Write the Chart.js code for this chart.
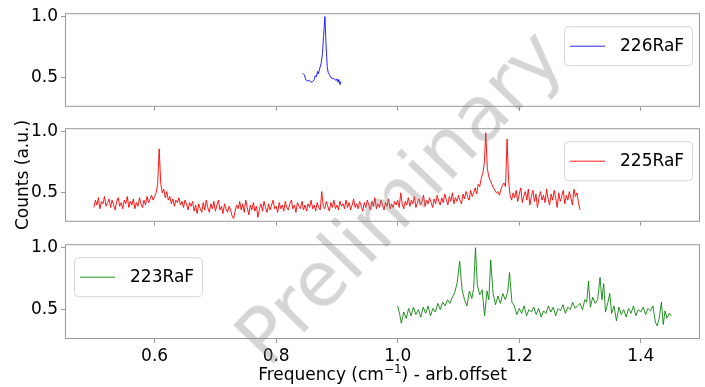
<!DOCTYPE html>
<html>
<head>
<meta charset="utf-8">
<script src="https://cdn.jsdelivr.net/npm/chart.js@4"></script>
<style>
    body { margin: 0; background: #fff; }
    #wrap { position: relative; width: 705px; height: 387px; overflow: hidden; font-family: "DejaVu Sans", sans-serif; }
    canvas { position: absolute; left: 0; }
    .ylabel { position: absolute; left: 22px; top: 175px; font-size: 17px; white-space: nowrap; transform: translate(-50%, -50%) rotate(-90deg); }
    .xlabel { position: absolute; left: 0; width: 765px; top: 364px; text-align: center; font-size: 17px; line-height: 20px; white-space: nowrap; }
    .xlabel sup { font-size: 12px; line-height: 0; }
    .mark { position: absolute; left: 399px; top: 197px; font-size: 76px; line-height: 1; white-space: nowrap; color: rgba(128, 128, 128, 0.33); transform: translate(-50%, -50%) rotate(-46deg); pointer-events: none; }
</style>
</head>
<body>
<div id="wrap">
    <canvas id="c226" width="705" height="120" style="top:0px"></canvas>
    <canvas id="c225" width="705" height="120" style="top:115px"></canvas>
    <canvas id="c223" width="705" height="156" style="top:231px"></canvas>
    <div class="ylabel">Counts (a.u.)</div>
    <div class="xlabel">Frequency (cm<sup>−1</sup>) - arb.offset</div>
    <div class="mark">Preliminary</div>
</div>
<script>
// axis settings (shared by all three panels)
const xTicks = [0.6, 0.8, 1.0, 1.2, 1.4];
const yTicks = [0.5, 1.0];
const X_MIN = 0.4525, X_MAX = 1.4975;
const Y_MIN = 0.263, Y_MAX = 1.028;

// 226RaF
const blueFreq = [0.8433, 0.8461, 0.8489, 0.8515, 0.8543, 0.8571, 0.8598, 0.8626, 0.8642, 0.8663,
    0.8680, 0.8696, 0.8719, 0.8741, 0.8762, 0.8779, 0.8802, 0.8818, 0.8840, 0.8856,
    0.8877, 0.8905, 0.8933, 0.8960, 0.8983, 0.8999, 0.9016, 0.9032, 0.9049, 0.9065];
const blueCounts = [0.539, 0.525, 0.486, 0.472, 0.480, 0.464, 0.467, 0.486, 0.517, 0.507,
    0.552, 0.533, 0.579, 0.618, 0.698, 0.830, 1.000, 0.804, 0.591, 0.544,
    0.525, 0.499, 0.494, 0.491, 0.478, 0.491, 0.464, 0.486, 0.444, 0.470];

// 225RaF
const redFreq = [
    0.5000, 0.5025, 0.5050, 0.5075, 0.5100, 0.5125, 0.5150, 0.5175,
    0.5200, 0.5225, 0.5250, 0.5275, 0.5300, 0.5325, 0.5350, 0.5375,
    0.5400, 0.5425, 0.5450, 0.5475, 0.5500, 0.5525, 0.5550, 0.5575,
    0.5600, 0.5625, 0.5650, 0.5675, 0.5700, 0.5725, 0.5750, 0.5775,
    0.5800, 0.5825, 0.5850, 0.5875, 0.5900, 0.5925, 0.5950, 0.5975,
    0.6000, 0.6025, 0.6050, 0.6075, 0.6100, 0.6125, 0.6150, 0.6175,
    0.6200, 0.6225, 0.6250, 0.6275, 0.6300, 0.6325, 0.6350, 0.6375,
    0.6400, 0.6425, 0.6450, 0.6475, 0.6500, 0.6525, 0.6550, 0.6575,
    0.6600, 0.6625, 0.6650, 0.6675, 0.6700, 0.6725, 0.6750, 0.6775,
    0.6800, 0.6825, 0.6850, 0.6875, 0.6900, 0.6925, 0.6950, 0.6975,
    0.7000, 0.7025, 0.7050, 0.7075, 0.7100, 0.7125, 0.7150, 0.7175,
    0.7200, 0.7225, 0.7250, 0.7275, 0.7300, 0.7325, 0.7350, 0.7375,
    0.7400, 0.7425, 0.7450, 0.7475, 0.7500, 0.7525, 0.7550, 0.7575,
    0.7600, 0.7625, 0.7650, 0.7675, 0.7700, 0.7725, 0.7750, 0.7775,
    0.7800, 0.7825, 0.7850, 0.7875, 0.7900, 0.7925, 0.7950, 0.7975,
    0.8000, 0.8025, 0.8050, 0.8075, 0.8100, 0.8125, 0.8150, 0.8175,
    0.8200, 0.8225, 0.8250, 0.8275, 0.8300, 0.8325, 0.8350, 0.8375,
    0.8400, 0.8425, 0.8450, 0.8475, 0.8500, 0.8525, 0.8550, 0.8575,
    0.8600, 0.8625, 0.8650, 0.8675, 0.8700, 0.8725, 0.8750, 0.8775,
    0.8800, 0.8825, 0.8850, 0.8875, 0.8900, 0.8925, 0.8950, 0.8975,
    0.9000, 0.9025, 0.9050, 0.9075, 0.9100, 0.9125, 0.9150, 0.9175,
    0.9200, 0.9225, 0.9250, 0.9275, 0.9300, 0.9325, 0.9350, 0.9375,
    0.9400, 0.9425, 0.9450, 0.9475, 0.9500, 0.9525, 0.9550, 0.9575,
    0.9600, 0.9625, 0.9650, 0.9675, 0.9700, 0.9725, 0.9750, 0.9775,
    0.9800, 0.9825, 0.9850, 0.9875, 0.9900, 0.9925, 0.9950, 0.9975,
    1.0000, 1.0025, 1.0050, 1.0075, 1.0100, 1.0125, 1.0150, 1.0175,
    1.0200, 1.0225, 1.0250, 1.0275, 1.0300, 1.0325, 1.0350, 1.0375,
    1.0400, 1.0425, 1.0450, 1.0475, 1.0500, 1.0525, 1.0550, 1.0575,
    1.0600, 1.0625, 1.0650, 1.0675, 1.0700, 1.0725, 1.0750, 1.0775,
    1.0800, 1.0825, 1.0850, 1.0875, 1.0900, 1.0925, 1.0950, 1.0975,
    1.1000, 1.1025, 1.1050, 1.1075, 1.1100, 1.1125, 1.1150, 1.1175,
    1.1200, 1.1225, 1.1250, 1.1275, 1.1300, 1.1325, 1.1350, 1.1375,
    1.1400, 1.1425, 1.1450, 1.1475, 1.1500, 1.1525, 1.1550, 1.1575,
    1.1600, 1.1625, 1.1650, 1.1675, 1.1700, 1.1725, 1.1750, 1.1775,
    1.1800, 1.1825, 1.1850, 1.1875, 1.1900, 1.1925, 1.1950, 1.1975,
    1.2000, 1.2025, 1.2050, 1.2075, 1.2100, 1.2125, 1.2150, 1.2175,
    1.2200, 1.2225, 1.2250, 1.2275, 1.2300, 1.2325, 1.2350, 1.2375,
    1.2400, 1.2425, 1.2450, 1.2475, 1.2500, 1.2525, 1.2550, 1.2575,
    1.2600, 1.2625, 1.2650, 1.2675, 1.2700, 1.2725, 1.2750, 1.2775,
    1.2800, 1.2825, 1.2850, 1.2875, 1.2900, 1.2925, 1.2950, 1.2975,
    1.3000];
const redCounts = [
    0.38, 0.44, 0.40, 0.46, 0.37, 0.43, 0.41, 0.47,
    0.39, 0.42, 0.45, 0.38, 0.44, 0.40, 0.36, 0.43,
    0.46, 0.39, 0.42, 0.37, 0.44, 0.41, 0.47, 0.38,
    0.43, 0.40, 0.45, 0.37, 0.42, 0.39, 0.46, 0.41,
    0.38, 0.44, 0.40, 0.47, 0.42, 0.45, 0.48, 0.44,
    0.47, 0.50, 0.57, 0.86, 0.58, 0.50, 0.53, 0.46,
    0.51, 0.44, 0.47, 0.41, 0.45, 0.39, 0.44, 0.42,
    0.46, 0.40, 0.43, 0.38, 0.44, 0.41, 0.36, 0.42,
    0.39, 0.43, 0.35, 0.40, 0.33, 0.41, 0.37, 0.34,
    0.42, 0.36, 0.44, 0.38, 0.34, 0.41, 0.37, 0.43,
    0.35, 0.40, 0.44, 0.36, 0.39, 0.33, 0.41, 0.37,
    0.34, 0.39, 0.36, 0.31, 0.29, 0.35, 0.40, 0.37,
    0.43, 0.36, 0.41, 0.34, 0.44, 0.38, 0.32, 0.40,
    0.36, 0.42, 0.35, 0.39, 0.30, 0.37, 0.41, 0.35,
    0.43, 0.38, 0.34, 0.41, 0.36, 0.40, 0.44, 0.37,
    0.39, 0.34, 0.42, 0.37, 0.40, 0.35, 0.43, 0.38,
    0.36, 0.41, 0.44, 0.37, 0.40, 0.34, 0.42, 0.39,
    0.37, 0.43, 0.36, 0.40, 0.35, 0.41, 0.38, 0.44,
    0.37, 0.40, 0.35, 0.42, 0.38, 0.36, 0.51, 0.39,
    0.37, 0.43, 0.39, 0.35, 0.42, 0.38, 0.44, 0.37,
    0.40, 0.36, 0.43, 0.39, 0.41, 0.37, 0.44, 0.38,
    0.42, 0.36, 0.40, 0.45, 0.38, 0.41, 0.37, 0.43,
    0.39, 0.35, 0.42, 0.38, 0.44, 0.40, 0.36, 0.43,
    0.39, 0.46, 0.37, 0.41, 0.38, 0.44, 0.40, 0.36,
    0.42, 0.39, 0.45, 0.37, 0.41, 0.38, 0.43, 0.40,
    0.44, 0.38, 0.50, 0.41, 0.37, 0.43, 0.40, 0.46,
    0.39, 0.44, 0.41, 0.47, 0.38, 0.42, 0.45, 0.40,
    0.43, 0.48, 0.39, 0.44, 0.41, 0.46, 0.42, 0.38,
    0.45, 0.41, 0.48, 0.43, 0.40, 0.46, 0.42, 0.49,
    0.44, 0.40, 0.47, 0.43, 0.50, 0.41, 0.46, 0.43,
    0.48, 0.44, 0.41, 0.49, 0.45, 0.51, 0.47, 0.44,
    0.52, 0.47, 0.50, 0.54, 0.49, 0.57, 0.55, 0.62,
    0.66, 0.74, 0.99, 0.70, 0.63, 0.60, 0.57, 0.54,
    0.52, 0.50, 0.51, 0.48, 0.53, 0.56, 0.58, 0.55,
    0.94, 0.60, 0.48, 0.44, 0.50, 0.46, 0.52, 0.43,
    0.49, 0.54, 0.42, 0.47, 0.51, 0.44, 0.53, 0.40,
    0.47, 0.52, 0.43, 0.49, 0.38, 0.46, 0.51, 0.44,
    0.48, 0.42, 0.53, 0.45, 0.40, 0.49, 0.44, 0.52,
    0.46, 0.38, 0.50, 0.43, 0.47, 0.52, 0.41, 0.48,
    0.44, 0.51, 0.46, 0.40, 0.53, 0.47, 0.50, 0.42,
    0.36];

// 223RaF
const greenFreq = [1.000, 1.003, 1.006, 1.010, 1.014, 1.018, 1.022, 1.026, 1.030, 1.034,
    1.038, 1.042, 1.046, 1.050, 1.054, 1.058, 1.062, 1.066, 1.070, 1.074,
    1.078, 1.082, 1.086, 1.090, 1.094, 1.098, 1.102, 1.106, 1.110, 1.114,
    1.118, 1.122, 1.125, 1.128, 1.131, 1.135, 1.139, 1.143, 1.147, 1.150,
    1.153, 1.157, 1.161, 1.165, 1.169, 1.173, 1.177, 1.181, 1.184, 1.188,
    1.192, 1.196, 1.200, 1.204, 1.208, 1.212, 1.216, 1.220, 1.224, 1.228,
    1.232, 1.236, 1.240, 1.244, 1.248, 1.252, 1.256, 1.260, 1.264, 1.268,
    1.272, 1.276, 1.280, 1.284, 1.288, 1.292, 1.296, 1.300, 1.304, 1.308,
    1.311, 1.314, 1.317, 1.321, 1.325, 1.329, 1.333, 1.336, 1.339, 1.342,
    1.346, 1.349, 1.352, 1.356, 1.360, 1.364, 1.368, 1.372, 1.376, 1.380,
    1.384, 1.388, 1.392, 1.396, 1.400, 1.404, 1.408, 1.412, 1.416, 1.420,
    1.424, 1.427, 1.430, 1.434, 1.437, 1.440, 1.443, 1.447, 1.450];
const greenCounts = [0.53, 0.47, 0.39, 0.48, 0.43, 0.51, 0.45, 0.52, 0.46, 0.50,
    0.44, 0.52, 0.47, 0.53, 0.45, 0.51, 0.48, 0.55, 0.50, 0.56,
    0.53, 0.58, 0.55, 0.60, 0.64, 0.72, 0.89, 0.66, 0.58, 0.53,
    0.65, 0.59, 0.67, 1.00, 0.70, 0.62, 0.66, 0.45, 0.65, 0.58,
    0.90, 0.63, 0.54, 0.61, 0.55, 0.63, 0.58, 0.64, 0.80, 0.56,
    0.53, 0.46, 0.51, 0.47, 0.53, 0.45, 0.50, 0.48, 0.52, 0.46,
    0.51, 0.44, 0.49, 0.47, 0.53, 0.48, 0.52, 0.45, 0.51, 0.49,
    0.54, 0.47, 0.52, 0.50, 0.56, 0.51, 0.53, 0.55, 0.50, 0.58,
    0.56, 0.73, 0.52, 0.60, 0.55, 0.58, 0.76, 0.58, 0.71, 0.48,
    0.56, 0.63, 0.47, 0.53, 0.41, 0.52, 0.46, 0.50, 0.44, 0.51,
    0.47, 0.53, 0.45, 0.50, 0.48, 0.52, 0.46, 0.51, 0.49, 0.53,
    0.40, 0.37, 0.42, 0.56, 0.38, 0.49, 0.43, 0.47, 0.45];

const FONT = { family: "DejaVu Sans", size: 17 };
const SPINE = "#999999";

// draws the full box round the plot area and the legend box inside it
const panelFrame = {
    id: "panelFrame",
    afterDatasetsDraw(chart, args, opts) {
        const { ctx, chartArea: a } = chart;
        ctx.save();
        ctx.strokeStyle = SPINE;
        ctx.lineWidth = 1;
        ctx.strokeRect(a.left + 0.5, a.top + 0.5, a.width - 1, a.height - 1);

        const w = 128, h = 39;
        const x = opts.side === "right" ? a.right - 8 - w : a.left + 9;
        const y = a.top + 13;
        ctx.beginPath();
        ctx.roundRect(x + 0.5, y + 0.5, w, h, 4);
        ctx.fillStyle = "rgba(255,255,255,0.8)";
        ctx.fill();
        ctx.strokeStyle = "#d6d6d6";
        ctx.stroke();

        ctx.beginPath();
        ctx.strokeStyle = opts.color;
        ctx.moveTo(x + 6, y + h / 2 + 0.5);
        ctx.lineTo(x + 41, y + h / 2 + 0.5);
        ctx.stroke();

        ctx.fillStyle = "#000";
        ctx.font = '17px "DejaVu Sans"';
        ctx.textBaseline = "middle";
        ctx.fillText(opts.label, x + 56, y + h / 2 + 1);
        ctx.restore();
    }
};

function makePanel(id, freq, counts, color, label, side, bottomAxis) {
    const points = freq.map((f, i) => ({ x: f, y: counts[i] }));
    return new Chart(document.getElementById(id), {
        type: "line",
        data: {
            datasets: [{
                data: points,
                borderColor: color,
                borderWidth: 1,
                pointRadius: 0,
                tension: 0,
                fill: false
            }]
        },
        options: {
            responsive: false,
            animation: false,
            devicePixelRatio: 1,
            layout: { padding: { top: 12, right: 5, left: 0, bottom: 0 } },
            plugins: {
                legend: { display: false },
                tooltip: { enabled: false },
                panelFrame: { label: label, color: color, side: side }
            },
            scales: {
                x: {
                    type: "linear",
                    min: X_MIN,
                    max: X_MAX,
                    afterBuildTicks: (s) => { s.ticks = xTicks.map(v => ({ value: v })); },
                    afterFit: (s) => { s.height = bottomAxis ? 48 : 12; },
                    ticks: {
                        display: bottomAxis,
                        autoSkip: false,
                        maxRotation: 0,
                        color: "#000",
                        font: FONT,
                        padding: 3,
                        callback: (v) => Number(v).toFixed(1)
                    },
                    grid: { drawOnChartArea: false, drawTicks: true, tickLength: 4, color: SPINE },
                    border: { display: false }
                },
                y: {
                    min: Y_MIN,
                    max: Y_MAX,
                    afterBuildTicks: (s) => { s.ticks = yTicks.map(v => ({ value: v })); },
                    afterFit: (s) => { s.width = 65; },
                    ticks: {
                        color: "#000",
                        font: FONT,
                        padding: 3,
                        callback: (v) => Number(v).toFixed(1)
                    },
                    grid: { drawOnChartArea: false, drawTicks: true, tickLength: 4, color: SPINE },
                    border: { display: false }
                }
            }
        },
        plugins: [panelFrame]
    });
}

makePanel("c226", blueFreq, blueCounts, "rgba(0,0,255,0.85)", "226RaF", "right", false);
makePanel("c225", redFreq, redCounts, "rgba(255,0,0,0.9)", "225RaF", "right", false);
makePanel("c223", greenFreq, greenCounts, "rgba(0,128,0,0.85)", "223RaF", "left", true);
</script>
</body>
</html>
